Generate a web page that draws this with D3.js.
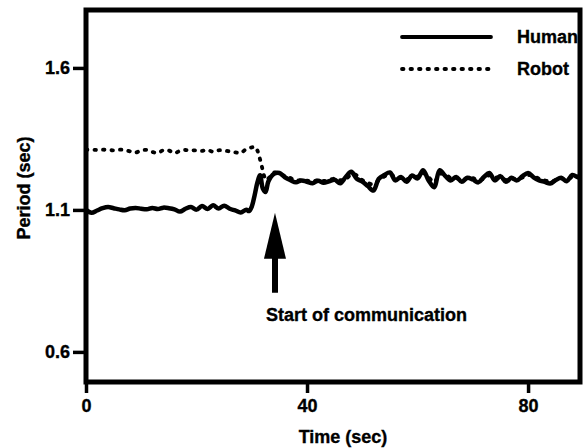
<!DOCTYPE html>
<html>
<head>
<meta charset="utf-8">
<script src="https://cdn.jsdelivr.net/npm/d3@7.9.0/dist/d3.min.js"></script>
<style>
  html, body { margin: 0; padding: 0; background: #fff; }
  svg { display: block; }
  text { font-family: "Liberation Sans", Arial, sans-serif; font-weight: bold; fill: #000; stroke: #000; stroke-width: 0.35px; }
</style>
</head>
<body>
<svg id="chart" width="587" height="448"></svg>
<script>
// values
const humanTime = [0, 1, 2, 3, 4, 5, 6, 7, 8, 9, 10, 11, 12, 13, 14, 15, 16, 17, 18, 19,
  20, 21, 22, 23, 24, 25, 26, 27, 28, 29, 29.5, 30, 30.5, 31, 31.5, 32, 32.5, 33, 34, 35,
  36, 37, 38, 39, 40, 41, 42, 43, 44, 45, 46, 47, 48, 49, 50, 51, 52, 53, 54, 55,
  56, 57, 58, 59, 60, 61, 62, 63, 64, 65, 66, 67, 68, 69, 70, 71, 72, 73, 74, 75,
  76, 77, 78, 79, 80, 81, 82, 83, 84, 85, 86, 87, 88, 89, 89.6];
const humanPeriod = [1.100, 1.090, 1.098, 1.106, 1.110, 1.106, 1.102, 1.099, 1.105, 1.107,
  1.104, 1.102, 1.107, 1.103, 1.108, 1.106, 1.102, 1.094, 1.104, 1.110,
  1.101, 1.114, 1.103, 1.116, 1.105, 1.115, 1.104, 1.098, 1.091, 1.101,
  1.096, 1.112, 1.150, 1.195, 1.222, 1.175, 1.163, 1.200, 1.227, 1.230,
  1.215, 1.205, 1.197, 1.204, 1.199, 1.194, 1.203, 1.196, 1.201, 1.206,
  1.194, 1.216, 1.234, 1.210, 1.200, 1.184, 1.168, 1.210, 1.223, 1.232,
  1.204, 1.216, 1.199, 1.221, 1.211, 1.240, 1.204, 1.180, 1.240, 1.220,
  1.204, 1.216, 1.199, 1.213, 1.207, 1.197, 1.216, 1.230, 1.204, 1.219,
  1.199, 1.213, 1.204, 1.219, 1.230, 1.215, 1.204, 1.199, 1.193, 1.205,
  1.213, 1.201, 1.223, 1.215, 1.210];

const robotTime = [0, 1, 2, 3, 4, 5, 6, 7, 8, 9, 10, 11, 12, 13, 14, 15, 16, 17, 18, 19,
  20, 21, 22, 23, 24, 25, 26, 27, 28, 29, 30, 30.6, 31, 31.4, 31.8, 32.2, 32.6, 33.2, 34, 35,
  36, 37, 38, 39, 40, 41, 42, 43, 44, 45, 46, 47, 48, 49, 50, 51, 52, 53, 54, 55,
  56, 57, 58, 59, 60, 61, 62, 63, 64, 65, 66, 67, 68, 69, 70, 71, 72, 73, 74, 75,
  76, 77, 78, 79, 80, 81, 82, 83, 84, 85, 86, 87, 88, 89, 89.6];
const robotPeriod = [1.312, 1.312, 1.311, 1.312, 1.311, 1.310, 1.312, 1.311, 1.306, 1.302,
  1.310, 1.311, 1.304, 1.301, 1.310, 1.309, 1.300, 1.308, 1.311, 1.309,
  1.310, 1.308, 1.311, 1.305, 1.310, 1.309, 1.306, 1.303, 1.301, 1.314,
  1.320, 1.322, 1.310, 1.285, 1.255, 1.222, 1.205, 1.215, 1.232, 1.226,
  1.220, 1.212, 1.204, 1.205, 1.203, 1.200, 1.205, 1.202, 1.206, 1.210,
  1.205, 1.208, 1.225, 1.222, 1.205, 1.195, 1.190, 1.205, 1.218, 1.226,
  1.215, 1.212, 1.208, 1.215, 1.218, 1.230, 1.215, 1.198, 1.225, 1.228,
  1.212, 1.212, 1.206, 1.210, 1.212, 1.204, 1.210, 1.222, 1.215, 1.214,
  1.206, 1.210, 1.208, 1.214, 1.222, 1.220, 1.210, 1.204, 1.200, 1.203,
  1.210, 1.206, 1.216, 1.218, 1.212];

const xTicks = [0, 40, 80];
const yTicks = [0.6, 1.1, 1.6];
const seriesNames = ["Human", "Robot"];
const annotation = "Start of communication";
const commTime = 34.2;
const commPeriod = 1.09;

const svg = d3.select("#chart");
const margin = { left: 86, top: 10, right: 7, bottom: 66 };
const width = 587 - margin.left - margin.right;
const height = 448 - margin.top - margin.bottom;

const x = d3.scaleLinear().domain([0, 89.4]).range([0, width]);
const y = d3.scaleLinear().domain([0.494, 1.804]).range([height, 0]);

const g = svg.append("g").attr("transform", `translate(${margin.left},${margin.top})`);

const human = humanTime.map((t, i) => [t, humanPeriod[i]]);
const robot = robotTime.map((t, i) => [t, robotPeriod[i]]);

const line = d3.line().x(d => x(d[0])).y(d => y(d[1])).curve(d3.curveCatmullRom);

g.append("path")
  .datum(robot)
  .attr("d", line)
  .attr("fill", "none")
  .attr("stroke", "#000")
  .attr("stroke-width", 3.8)
  .attr("stroke-linecap", "round")
  .attr("stroke-dasharray", "1.5,7");

g.append("path")
  .datum(human)
  .attr("d", line)
  .attr("fill", "none")
  .attr("stroke", "#000")
  .attr("stroke-width", 4.5)
  .attr("stroke-linejoin", "round");

// axes
const yAxis = g.append("g")
  .call(d3.axisLeft(y).tickValues(yTicks).tickFormat(d3.format(".1f")).tickSize(13).tickSizeOuter(0).tickPadding(3));
const xAxis = g.append("g")
  .attr("transform", `translate(0,${height})`)
  .call(d3.axisBottom(x).tickValues(xTicks).tickFormat(d3.format("d")).tickSize(11).tickSizeOuter(0).tickPadding(6));

[yAxis, xAxis].forEach(a => {
  a.select(".domain").remove();
  a.selectAll(".tick line").attr("stroke", "#000").attr("stroke-width", 3.5);
  a.selectAll(".tick text").attr("font-size", 18).attr("font-family", null).attr("fill", "#000");
});

// frame
g.append("rect")
  .attr("x", 0).attr("y", 0)
  .attr("width", width).attr("height", height)
  .attr("fill", "none")
  .attr("stroke", "#000")
  .attr("stroke-width", 5);

// axis titles
svg.append("text")
  .attr("x", 343).attr("y", 443)
  .attr("text-anchor", "middle")
  .attr("font-size", 18)
  .text("Time (sec)");

svg.append("text")
  .attr("transform", "translate(30,188) rotate(-90)")
  .attr("text-anchor", "middle")
  .attr("font-size", 18)
  .text("Period (sec)");

// legend
const legend = g.append("g");
seriesNames.forEach((name, i) => {
  const ly = 27 + i * 32;
  legend.append("line")
    .attr("x1", 316).attr("x2", 405)
    .attr("y1", ly).attr("y2", ly)
    .attr("stroke", "#000")
    .attr("stroke-width", 3.8)
    .attr("stroke-linecap", "round")
    .attr("stroke-dasharray", i === 0 ? null : "1.5,7");
  legend.append("text")
    .attr("x", 431).attr("y", ly + 6)
    .attr("font-size", 18)
    .text(name);
});

// arrow + annotation
const ax = x(commTime);
const ay = y(commPeriod);
g.append("line")
  .attr("x1", ax).attr("x2", ax)
  .attr("y1", ay + 40).attr("y2", ay + 80)
  .attr("stroke", "#000")
  .attr("stroke-width", 6);
g.append("path")
  .attr("d", `M${ax},${ay}L${ax - 11},${ay + 46}L${ax + 11},${ay + 46}Z`)
  .attr("fill", "#000");
g.append("text")
  .attr("x", ax - 9).attr("y", ay + 108)
  .attr("font-size", 18)
  .text(annotation);
</script>
</body>
</html>
